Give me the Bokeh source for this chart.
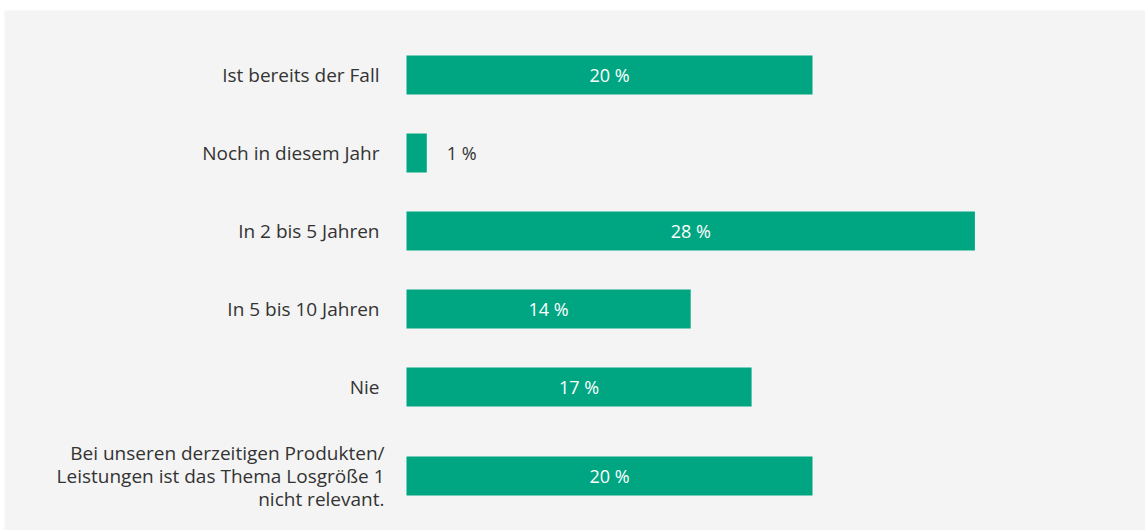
from bokeh.plotting import figure
from bokeh.models import Range1d, ColumnDataSource
from bokeh.embed import file_html
from bokeh.resources import INLINE
from bokeh.core.properties import value

# ---- data ----
categories = [
    "Ist bereits der Fall",
    "Noch in diesem Jahr",
    "In 2 bis 5 Jahren",
    "In 5 bis 10 Jahren",
    "Nie",
    "Bei unseren derzeitigen Produkten/\nLeistungen ist das Thema Losgröße 1\nnicht relevant.",
]
values = [20, 1, 28, 14, 17, 20]
value_labels = [f"{v} %" for v in values]

# ---- layout ----
W, H = 1145, 530
ML, MT = 4, 10
FW, FH = W - ML, H - MT
PX_PER_PCT = 20.3
ZERO_PX = 402          # frame pixel of 0 %
TOP_PAD = 25.5
ROW_H = 78
LINE_EXTRA = 11
BAR_H = 39
FONT = "Open Sans"
BAR_COLOR = "#00a682"
TEXT_COLOR = "#333333"

centers, offsets = [], []
y = TOP_PAD
for c in categories:
    n = c.count("\n") + 1
    h = ROW_H + (n - 1) * LINE_EXTRA
    centers.append(y + h / 2)
    offsets.append(-27 if n == 1 else -22)
    y += h

inside = [v >= 3 for v in values]
src = ColumnDataSource(dict(y=centers, v=values, cat=categories, off=offsets))
in_src = ColumnDataSource(dict(
    y=[c for c, i in zip(centers, inside) if i],
    x=[v / 2 for v, i in zip(values, inside) if i],
    lab=[l for l, i in zip(value_labels, inside) if i],
))
out_src = ColumnDataSource(dict(
    y=[c for c, i in zip(centers, inside) if not i],
    x=[v for v, i in zip(values, inside) if not i],
    lab=[l for l, i in zip(value_labels, inside) if not i],
))

p = figure(
    width=W, height=H,
    x_range=Range1d(-ZERO_PX / PX_PER_PCT, (FW - ZERO_PX) / PX_PER_PCT),
    y_range=Range1d(FH, 0),
    output_backend="svg", toolbar_location=None,
    x_axis_location=None, y_axis_location=None,
    min_border_left=ML, min_border_top=MT, min_border_right=0, min_border_bottom=0,
    background_fill_color="#f4f4f4", border_fill_color="white",
    outline_line_color=None,
)
p.grid.visible = False

p.hbar(y="y", left=0, right="v", height=BAR_H, source=src,
       fill_color=BAR_COLOR, line_color=None)

p.text(x=0, y="y", text="cat", source=src, x_offset="off",
       text_align="right", text_baseline="middle",
       text_font=value(FONT), text_font_size="19px", text_color=TEXT_COLOR,
       text_line_height=0.89)

p.text(x="x", y="y", text="lab", source=in_src,
       text_align="center", text_baseline="middle",
       text_font=value(FONT), text_font_size="18px", text_color="white")

p.text(x="x", y="y", text="lab", source=out_src, x_offset=20,
       text_align="left", text_baseline="middle",
       text_font=value(FONT), text_font_size="18px", text_color=TEXT_COLOR)

open("out.html", "w").write(file_html(p, INLINE))
